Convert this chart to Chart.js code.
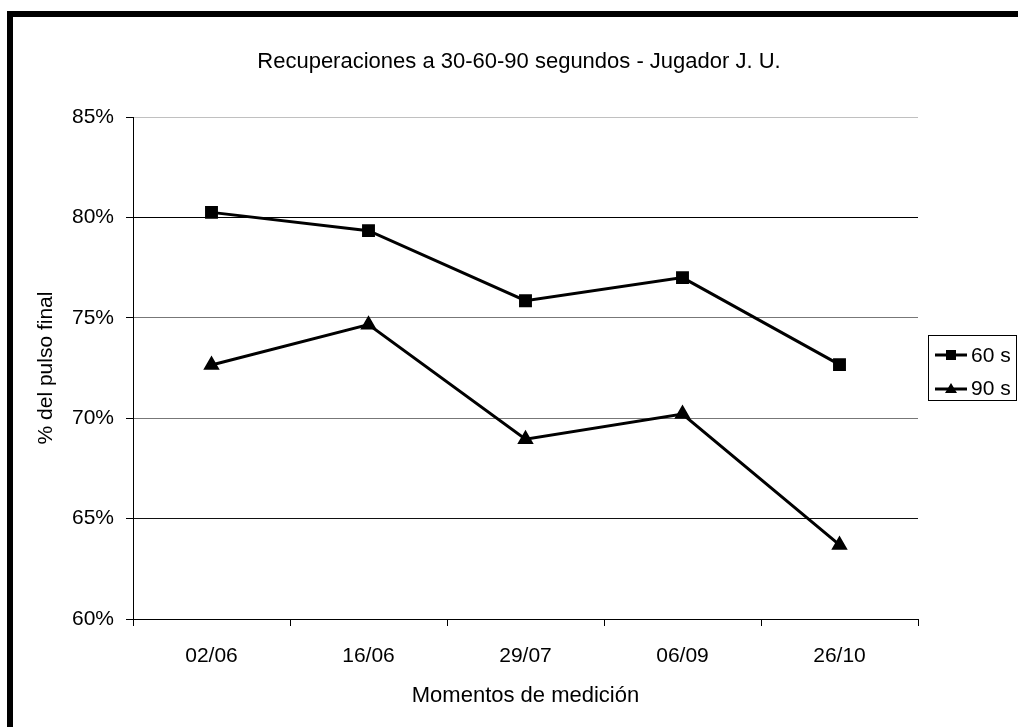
<!DOCTYPE html>
<html>
<head>
<meta charset="utf-8">
<script src="https://cdn.jsdelivr.net/npm/chart.js@4/dist/chart.umd.min.js"></script>
<style>
  html, body { margin:0; padding:0; background:#fff; overflow:hidden; }
  #wrap { position:relative; width:1018px; height:727px; }
  #c { position:absolute; left:0; top:0; }
  #frame { position:absolute; left:7px; top:11px; width:1200px; height:900px;
           border-left:6px solid #000; border-top:6px solid #000; pointer-events:none; }
  #legend { position:absolute; left:928px; top:335px; width:89px; height:66px;
            border:1px solid #000; background:#fff; box-sizing:border-box;
            font-family:"Liberation Sans", Arial, sans-serif; font-size:21px; color:#000; }
  .row { position:absolute; left:5px; height:24px; display:flex; align-items:center; }
  .row svg { margin-right:3px; }
</style>
</head>
<body>
<div id="wrap">
  <canvas id="c" width="1018" height="727"></canvas>
  <div id="frame"></div>
  <div id="legend">
    <div class="row" style="top:7px"><svg width="34" height="14"><line x1="1" y1="7" x2="33" y2="7" stroke="#000" stroke-width="3"/><rect x="12" y="2" width="10" height="10" fill="#000"/></svg><span id="l0"></span></div>
    <div class="row" style="top:40px"><svg width="34" height="14"><line x1="1" y1="8" x2="33" y2="8" stroke="#000" stroke-width="3"/><polygon points="17,2 23,12 11,12" fill="#000"/></svg><span id="l1"></span></div>
  </div>
</div>
<script>
const categories = ["02/06", "16/06", "29/07", "06/09", "26/10"];
const seriesNames = ["60 s", "90 s"];
const values60 = [80.25, 79.34, 75.85, 77.0, 72.67];
const values90 = [72.65, 74.66, 68.95, 70.21, 63.69];
const yMin = 60, yMax = 85, yStep = 5;
const titleText = "Recuperaciones a 30-60-90 segundos - Jugador J. U.";
const xTitle = "Momentos de medición";
const yTitle = "% del pulso final";

document.getElementById('l0').textContent = seriesNames[0];
document.getElementById('l1').textContent = seriesNames[1];

const FONT = '"Liberation Sans", Arial, sans-serif';
const gridColors = {60:'#000', 65:'#111', 70:'#777', 75:'#777', 80:'#000', 85:'#c0c0c0'};

const titlePlugin = {
  id: 'fixedTitle',
  afterDraw(chart) {
    const ctx = chart.ctx;
    ctx.save();
    ctx.font = '22px ' + FONT;
    ctx.fillStyle = '#000';
    ctx.textAlign = 'center';
    ctx.textBaseline = 'middle';
    ctx.fillText(titleText, 519, 62);
    ctx.restore();
  }
};

new Chart(document.getElementById('c'), {
  type: 'line',
  data: {
    labels: categories,
    datasets: [
      { label: seriesNames[0], data: values60, borderColor:'#000', backgroundColor:'#000',
        borderWidth:3, pointStyle:'rect', pointRadius:7, pointHoverRadius:7, tension:0 },
      { label: seriesNames[1], data: values90, borderColor:'#000', backgroundColor:'#000',
        borderWidth:3, pointStyle:'triangle', pointRadius:6.5, pointHoverRadius:6.5, tension:0 }
    ]
  },
  options: {
    responsive:false,
    animation:false,
    devicePixelRatio:1,
    layout: { padding: { left:0, right:100, top:117, bottom:0 } },
    plugins: { legend:{display:false}, title:{display:false}, tooltip:{enabled:false} },
    scales: {
      x: {
        offset:true,
        grid: { offset:true, drawOnChartArea:false, tickLength:7, tickColor:'#000', tickWidth:1 },
        border: { color:'#000', width:1 },
        ticks: { color:'#000', font:{ family:FONT, size:21 }, padding:18, maxRotation:0 },
        title: { display:true, text:xTitle, color:'#000', font:{ family:FONT, size:22 }, padding:{top:18,bottom:18} },
        afterFit(scale){ scale.height = 108; }
      },
      y: {
        min:yMin, max:yMax,
        grid: { color:(c)=> gridColors[c.tick.value] || '#777', lineWidth:1, tickLength:7, tickColor:'#000' },
        border: { color:'#000', width:1 },
        ticks: { stepSize:yStep, color:'#000', font:{ family:FONT, size:21 }, padding:12,
                 callback:(v)=> v + '%' },
        title: { display:true, text:yTitle, color:'#000', font:{ family:FONT, size:21 }, padding:{top:34,bottom:34} },
        afterFit(scale){ scale.width = 133; }
      }
    }
  },
  plugins:[titlePlugin]
});
</script>
</body>
</html>
